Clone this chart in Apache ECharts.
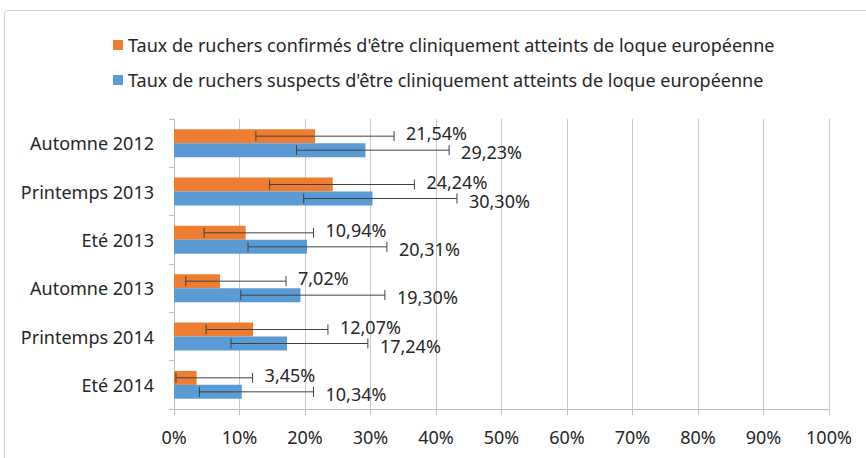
<!DOCTYPE html>
<html>
<head>
<meta charset="utf-8">
<script src="https://cdn.jsdelivr.net/npm/echarts@6/dist/echarts.min.js"></script>
<style>
  html, body { margin: 0; padding: 0; background: #fff; }
  #chart { width: 866px; height: 458px; }
</style>
</head>
<body>
<div id="chart"></div>
<script>
// periods, top to bottom
var categories = ['Automne 2012', 'Printemps 2013', 'Eté 2013', 'Automne 2013', 'Printemps 2014', 'Eté 2014'];

var confirmedName = "Taux de ruchers confirmés d'être cliniquement atteints de loque européenne";
var suspectName = "Taux de ruchers suspects d'être cliniquement atteints de loque européenne";

var confirmed = [21.54, 24.24, 10.94, 7.02, 12.07, 3.45];
var confirmedLow = [12.5, 14.6, 4.6, 1.8, 4.9, 0.3];
var confirmedHigh = [33.6, 36.7, 21.3, 17.1, 23.5, 12.0];

var suspect = [29.23, 30.30, 20.31, 19.30, 17.24, 10.34];
var suspectLow = [18.7, 19.8, 11.3, 10.2, 8.7, 3.9];
var suspectHigh = [42.0, 43.2, 32.5, 32.2, 29.6, 21.3];

var xTicks = [0, 10, 20, 30, 40, 50, 60, 70, 80, 90, 100];

var font = '"Noto Sans", "DejaVu Sans", sans-serif';

function fmt(v) {
    return v.toFixed(2).replace('.', ',') + '%';
}

// error bar + value label, drawn on top of the bars
function errorSeries(name, vals, low, high, dy, labelDy) {
    return {
        type: 'custom',
        name: name,
        z: 10,
        silent: true,
        encode: {x: [1, 2], y: 0},
        data: categories.map(function (c, i) {
            return [i, low[i], high[i], vals[i]];
        }),
        renderItem: function (params, api) {
            var cat = api.value(0);
            var lo = api.coord([api.value(1), cat]);
            var hi = api.coord([api.value(2), cat]);
            var y = lo[1] + dy;
            var ls = {stroke: '#404040', lineWidth: 1};
            return {
                type: 'group',
                children: [
                    {type: 'line', shape: {x1: lo[0], y1: y, x2: hi[0], y2: y}, style: ls},
                    {type: 'line', shape: {x1: lo[0], y1: y - 5, x2: lo[0], y2: y + 5}, style: ls},
                    {type: 'line', shape: {x1: hi[0], y1: y - 5, x2: hi[0], y2: y + 5}, style: ls},
                    {
                        type: 'text',
                        style: {
                            text: fmt(api.value(3)),
                            x: hi[0] + 12,
                            y: y + labelDy,
                            verticalAlign: 'middle',
                            textVerticalAlign: 'middle',
                            font: '18px ' + font,
                            fill: '#262626'
                        }
                    }
                ]
            };
        }
    };
}

var myChart = echarts.init(document.getElementById('chart'), null, {renderer: 'svg'});

var option = {
    animation: false,
    color: ['#ED7D31', '#5B9BD5'],
    graphic: [{
        type: 'rect',
        shape: {x: 4.5, y: 10.5, width: 900, height: 470, r: 4},
        style: {fill: 'none', stroke: '#d0d0d0', lineWidth: 1},
        silent: true
    }],
    legend: {
        data: [confirmedName, suspectName],
        orient: 'vertical',
        left: 108,
        top: 30,
        itemWidth: 10,
        itemHeight: 10,
        itemGap: 15,
        icon: 'rect',
        textStyle: {fontFamily: font, fontSize: 18, color: '#262626', lineHeight: 20}
    },
    grid: {left: 174, right: 37, top: 119, bottom: 49},
    xAxis: {
        type: 'value',
        min: 0,
        max: 100,
        interval: 10,
        axisLine: {show: true, lineStyle: {color: '#bfbfbf'}},
        axisTick: {show: true, length: 6, lineStyle: {color: '#bfbfbf'}},
        splitLine: {show: true, lineStyle: {color: '#c8c8c8'}},
        axisLabel: {
            margin: 19,
            fontFamily: font,
            fontSize: 18,
            color: '#262626',
            formatter: function (v) { return v + '%'; }
        }
    },
    yAxis: {
        type: 'category',
        inverse: true,
        data: categories,
        axisLine: {show: true, lineStyle: {color: '#bfbfbf'}},
        axisTick: {show: true, length: 5, lineStyle: {color: '#bfbfbf'}},
        axisLabel: {margin: 20, fontFamily: font, fontSize: 18, color: '#262626'}
    },
    series: [
        {
            name: confirmedName,
            type: 'bar',
            barWidth: 14,
            barGap: 0,
            data: confirmed
        },
        {
            name: suspectName,
            type: 'bar',
            barWidth: 14,
            barGap: 0,
            data: suspect
        },
        errorSeries('confirmedErr', confirmed, confirmedLow, confirmedHigh, -7, -3),
        errorSeries('suspectErr', suspect, suspectLow, suspectHigh, 7, 2)
    ]
};

myChart.setOption(option);

window.addEventListener("resize", function () {
    myChart.resize();
});
</script>
</body>
</html>
